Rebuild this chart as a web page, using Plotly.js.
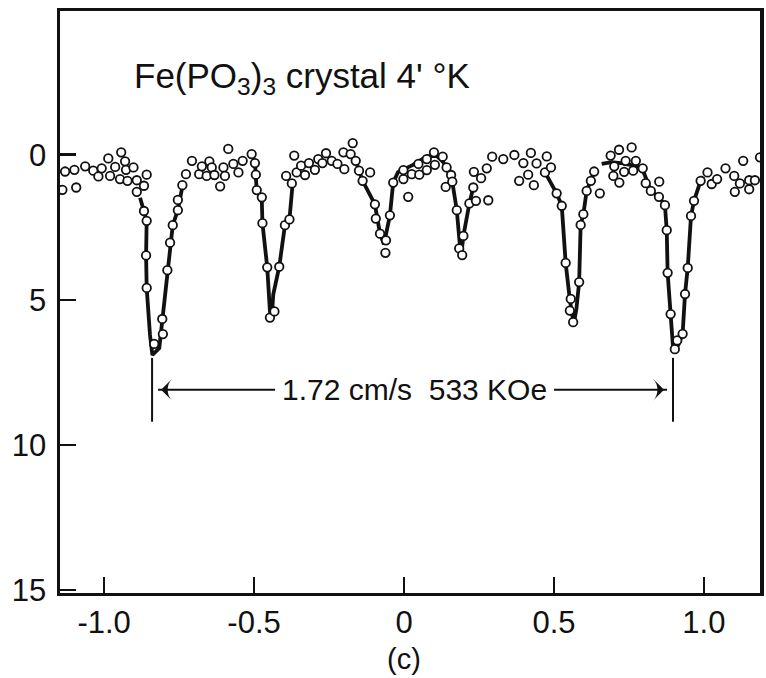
<!DOCTYPE html>
<html>
<head>
<meta charset="utf-8">
<script src="https://cdn.plot.ly/plotly-3.0.1.min.js"></script>
<style>html,body{margin:0;padding:0;background:#fff;}#chart{width:766px;height:678px;}</style>
</head>
<body>
<div id="chart"></div>
<script>
// Measured Mössbauer points: velocity (cm/s) and absorption (%)
const velocity = [-1.139,-1.130,-1.099,-1.093,-1.063,-1.036,-1.019,-1.008,-0.986,-0.980,-0.963,-0.947,-0.943,-0.930,-0.927,-0.922,-0.902,-0.891,-0.891,-0.867,-0.858,-0.867,-0.858,-0.860,-0.858,-0.833,-0.806,-0.804,-0.789,-0.780,-0.771,-0.754,-0.754,-0.739,-0.727,-0.707,-0.683,-0.674,-0.658,-0.649,-0.641,-0.632,-0.613,-0.602,-0.597,-0.586,-0.569,-0.552,-0.538,-0.508,-0.497,-0.494,-0.491,-0.474,-0.472,-0.456,-0.447,-0.432,-0.416,-0.397,-0.382,-0.393,-0.374,-0.366,-0.358,-0.343,-0.330,-0.317,-0.297,-0.286,-0.272,-0.260,-0.241,-0.222,-0.202,-0.199,-0.178,-0.171,-0.161,-0.150,-0.138,-0.113,-0.097,-0.094,-0.080,-0.062,-0.060,-0.047,-0.036,-0.002,-0.002,0.014,0.026,0.048,0.051,0.076,0.076,0.100,0.103,0.129,0.139,0.142,0.157,0.161,0.176,0.184,0.194,0.198,0.218,0.231,0.233,0.240,0.257,0.276,0.281,0.294,0.331,0.368,0.384,0.398,0.414,0.423,0.433,0.442,0.470,0.476,0.490,0.509,0.526,0.539,0.553,0.556,0.564,0.584,0.589,0.598,0.609,0.623,0.634,0.653,0.689,0.698,0.701,0.717,0.718,0.734,0.739,0.759,0.764,0.773,0.796,0.806,0.823,0.850,0.851,0.870,0.876,0.879,0.889,0.903,0.911,0.929,0.937,0.946,0.957,0.967,0.989,1.012,1.026,1.044,1.072,1.101,1.103,1.120,1.131,1.151,1.151,1.170,1.187];
const absorption = [1.21,0.58,0.52,1.13,0.40,0.55,0.75,0.47,0.13,0.73,0.42,0.84,-0.08,0.23,0.52,0.90,0.44,0.88,1.28,1.07,0.69,1.94,2.28,3.47,4.59,6.52,5.66,6.18,3.98,3.03,2.43,1.91,1.56,1.05,0.67,0.21,0.67,0.40,0.73,0.23,0.44,0.70,1.09,0.44,0.73,-0.20,0.32,0.61,0.21,-0.02,0.29,0.69,1.22,1.47,2.36,3.88,5.61,5.40,3.86,2.43,2.23,0.73,0.99,0.03,0.61,0.38,0.70,0.29,0.52,0.15,0.29,-0.05,0.21,0.32,-0.08,0.50,-0.02,-0.40,0.21,0.55,0.90,0.61,1.71,2.20,2.72,3.38,2.95,2.09,0.96,0.84,0.53,1.45,0.67,0.32,0.69,0.15,0.53,-0.08,0.35,0.07,1.11,0.44,0.70,0.93,1.91,3.23,3.46,2.80,1.68,1.13,0.59,1.59,0.81,0.47,1.57,0.07,0.15,0.01,0.90,0.29,0.69,-0.06,1.05,0.30,0.61,0.06,0.44,1.33,1.76,3.73,5.37,4.97,5.77,4.39,2.42,2.05,1.25,0.90,0.58,1.33,0.03,0.73,0.40,-0.17,0.96,0.59,0.21,-0.25,0.55,0.21,0.47,0.98,1.25,1.45,0.93,1.74,2.60,4.07,5.49,6.70,6.40,6.17,4.80,3.90,2.11,1.59,0.90,0.61,1.01,0.84,0.47,0.73,1.28,0.99,0.21,0.88,1.19,0.88,0.09];

// Hand-drawn curve through the absorption lines
const fit1X = [-0.880,-0.867,-0.858,-0.860,-0.858,-0.847,-0.839,-0.816,-0.806,-0.789,-0.771,-0.754,-0.739,-0.733];
const fit1Y = [1.48,1.94,2.28,3.47,4.59,6.20,6.90,6.66,5.66,3.98,2.43,1.91,1.10,0.96];
const fit2X = [-0.497,-0.491,-0.474,-0.472,-0.456,-0.447,-0.441,-0.436,-0.416,-0.397,-0.382,-0.374,-0.370];
const fit2Y = [0.29,1.22,1.60,2.36,3.88,5.40,5.63,4.82,3.86,2.43,2.23,1.11,0.85];
const fit3X = [-0.161,-0.150,-0.138,-0.097,-0.080,-0.067,-0.047,-0.036,-0.020,0.030,0.077,0.110,0.131,0.142,0.161,0.176,0.187,0.192,0.198,0.218,0.231];
const fit3Y = [0.21,0.55,0.90,1.71,2.72,3.09,2.09,0.96,0.60,0.35,0.05,0.05,0.26,0.44,0.93,1.91,3.21,3.35,2.80,1.68,1.13];
const fit5X = [0.470,0.490,0.509,0.526,0.539,0.553,0.562,0.566,0.575,0.584,0.589,0.598,0.609,0.623,0.634];
const fit5Y = [0.61,0.95,1.33,1.76,3.73,5.00,5.60,5.85,5.30,4.39,2.42,2.05,1.25,0.90,0.58];
const fit6X = [0.659,0.692,0.730,0.793,0.823,0.850,0.870,0.876,0.879,0.889,0.898,0.915,0.929,0.937,0.946,0.957,0.967,0.989,0.998];
const fit6Y = [0.32,0.26,0.30,0.44,1.25,1.45,1.74,2.60,4.07,5.49,6.78,6.55,6.17,4.80,3.90,2.11,1.59,0.90,0.75];

// Outer-line splitting marker
const splitX = [-0.840, 0.897];
const splitTop = 7.0, splitBottom = 9.2, splitArrowY = 8.1;
const splitLabel = "1.72 cm/s  533 KOe";
const splitTextLeft = -0.43, splitTextRight = 0.50;

const xTickVals = [-1.0,-0.5,0,0.5,1.0];
const xTickText = ["-1.0","-0.5","0","0.5","1.0"];
const yTickVals = [0,5,10,15];
const yTickText = ["0","5","10","15"];

const FONT = "Liberation Sans, Arial, sans-serif";
const INK = "#111";

const fitStyle = {mode:"lines", line:{color:INK, width:3.8}, hoverinfo:"skip", showlegend:false};
const traces = [
  Object.assign({x:fit1X, y:fit1Y, type:"scatter"}, fitStyle),
  Object.assign({x:fit2X, y:fit2Y, type:"scatter"}, fitStyle),
  Object.assign({x:fit3X, y:fit3Y, type:"scatter"}, fitStyle),
  Object.assign({x:fit5X, y:fit5Y, type:"scatter"}, fitStyle),
  Object.assign({x:fit6X, y:fit6Y, type:"scatter"}, fitStyle),
  // arrow shafts
  {x:[splitTextLeft, splitX[0]+0.02], y:[splitArrowY, splitArrowY], type:"scatter", mode:"lines",
   line:{color:INK, width:2}, showlegend:false},
  {x:[splitTextRight, splitX[1]-0.02], y:[splitArrowY, splitArrowY], type:"scatter", mode:"lines",
   line:{color:INK, width:2}, showlegend:false},
  // arrow heads
  {x:[splitX[0]+0.03, splitX[1]-0.03], y:[splitArrowY, splitArrowY], type:"scatter", mode:"markers", showlegend:false,
   marker:{symbol:"arrow-wide", size:16, angle:[-90, 90], color:INK, line:{width:0}}},
  // data points
  {x:velocity, y:absorption, type:"scatter", mode:"markers", showlegend:false,
   marker:{symbol:"circle", size:8.5, color:"#fff", line:{color:INK, width:1.8}}}
];

const shapes = splitX.map(v => ({type:"line", xref:"x", yref:"y", x0:v, x1:v, y0:splitTop, y1:splitBottom,
  line:{color:INK, width:2}}));

const annotations = [
  {xref:"x", yref:"y", x:-0.907, y:-2.63, xanchor:"left", yanchor:"middle", showarrow:false,
   text:"Fe(PO<sub>3</sub>)<sub>3</sub> crystal 4' °K", font:{family:FONT, size:35, color:INK}},
  {xref:"x", yref:"y", x:(splitTextLeft+splitTextRight)/2, y:splitArrowY, showarrow:false,
   text:splitLabel, font:{family:FONT, size:30, color:INK}},
  {xref:"x", yref:"paper", x:0, y:-0.113, yanchor:"middle", showarrow:false,
   text:"(c)", font:{family:FONT, size:29, color:INK}}
];

const layout = {
  width:766, height:678,
  margin:{l:60, r:6, t:11, b:85},
  paper_bgcolor:"#fff", plot_bgcolor:"#fff",
  showlegend:false,
  font:{family:FONT, color:INK},
  xaxis:{range:[-1.147,1.187], tickvals:xTickVals, ticktext:xTickText, ticks:"inside", ticklen:16, tickwidth:2.5,
    tickcolor:INK, showgrid:false, zeroline:false, showline:true, linewidth:3, linecolor:INK, mirror:true,
    tickfont:{family:FONT, size:31, color:INK}, ticklabelstandoff:0},
  yaxis:{range:[15.1,-4.95], tickvals:yTickVals, ticktext:yTickText, ticks:"inside", ticklen:16, tickwidth:2.5,
    tickcolor:INK, showgrid:false, zeroline:false, showline:true, linewidth:3.5, linecolor:INK, mirror:true,
    tickfont:{family:FONT, size:31, color:INK}, ticklabelstandoff:4},
  shapes:shapes,
  annotations:annotations
};

Plotly.newPlot("chart", traces, layout, {staticPlot:true, displayModeBar:false});
</script>
</body>
</html>
